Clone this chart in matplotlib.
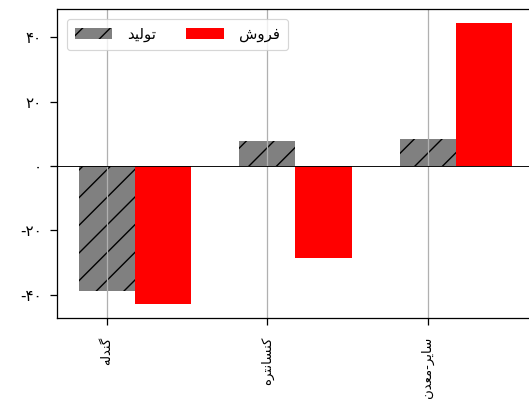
import numpy as np
import matplotlib
matplotlib.use("Agg")
import matplotlib.pyplot as plt

# values
categories = ["گندله", "کنسانتره", "سایر-معدن"]
production = [-38.8, 7.8, 8.5]
sales = [-42.9, -28.6, 44.4]
series_labels = ["تولید", "فروش"]

# arabic presentation forms: (isolated, final, initial, medial)
FORMS = {
    "ا": ("\uFE8D", "\uFE8E", None, None),
    "د": ("\uFEA9", "\uFEAA", None, None),
    "ر": ("\uFEAD", "\uFEAE", None, None),
    "و": ("\uFEED", "\uFEEE", None, None),
    "ت": ("\uFE95", "\uFE96", "\uFE97", "\uFE98"),
    "س": ("\uFEB1", "\uFEB2", "\uFEB3", "\uFEB4"),
    "ش": ("\uFEB5", "\uFEB6", "\uFEB7", "\uFEB8"),
    "ع": ("\uFEC9", "\uFECA", "\uFECB", "\uFECC"),
    "ف": ("\uFED1", "\uFED2", "\uFED3", "\uFED4"),
    "ل": ("\uFEDD", "\uFEDE", "\uFEDF", "\uFEE0"),
    "م": ("\uFEE1", "\uFEE2", "\uFEE3", "\uFEE4"),
    "ن": ("\uFEE5", "\uFEE6", "\uFEE7", "\uFEE8"),
    "ه": ("\uFEE9", "\uFEEA", "\uFEEB", "\uFEEC"),
    "ی": ("\uFBFC", "\uFBFD", "\uFBFE", "\uFBFF"),
    "ک": ("\uFB8E", "\uFB8F", "\uFB90", "\uFB91"),
    "گ": ("\uFB92", "\uFB93", "\uFB94", "\uFB95"),
}


def shape(text):
    # matplotlib does no arabic shaping, so pick the joined forms by hand
    out = []
    for i, ch in enumerate(text):
        if ch not in FORMS:
            out.append(ch)
            continue
        prev = text[i - 1] if i > 0 else None
        nxt = text[i + 1] if i + 1 < len(text) else None
        joins_prev = prev in FORMS and FORMS[prev][2] is not None
        joins_next = FORMS[ch][2] is not None and nxt in FORMS
        iso, fin, ini, med = FORMS[ch]
        if joins_prev and joins_next:
            out.append(med)
        elif joins_prev:
            out.append(fin)
        elif joins_next:
            out.append(ini)
        else:
            out.append(iso)
    return "".join(out)[::-1]


def fa_digits(v, pos=None):
    s = "%d" % v
    return s.translate(str.maketrans("0123456789", "۰۱۲۳۴۵۶۷۸۹"))


plt.rcParams['font.family'] = ['DejaVu Sans']
plt.rcParams['hatch.linewidth'] = 1.2

dpi = 83
fig = plt.figure(figsize=(529 / dpi, 410 / dpi), dpi=dpi)
ax = fig.add_axes([57 / 529, 1 - 318 / 410, 500 / 529, 309 / 410])

x = np.arange(len(categories))
w = 0.35
ax.bar(x, production, w, color='gray', hatch='/', label=shape(series_labels[0]))
ax.bar(x + w, sales, w, color='red', label=shape(series_labels[1]))
ax.axhline(0, color='k', lw=0.8)
ax.set_xlim(-0.31, -0.31 + 500 / 160.5)

for s in ax.spines.values():
    s.set_linewidth(1.1)
ax.spines['right'].set_visible(False)

ax.set_xticks(x)
ax.set_xticklabels([shape(c) for c in categories], rotation=90, fontsize=11.5)
ax.set_yticks([-40, -20, 0, 20, 40])
ax.yaxis.set_major_formatter(plt.FuncFormatter(fa_digits))
ax.tick_params(axis='y', labelsize=13, pad=7)
ax.tick_params(axis='x', pad=10)
ax.tick_params(length=6, width=1.1)
ax.grid(axis='x', lw=1.1)
ax.legend(loc='upper left', ncol=2, fontsize=13, handlelength=2.5,
          columnspacing=2.0, handletextpad=1.0, borderpad=0.55,
          borderaxespad=0.65)

fig.savefig("out.png", dpi=dpi)
